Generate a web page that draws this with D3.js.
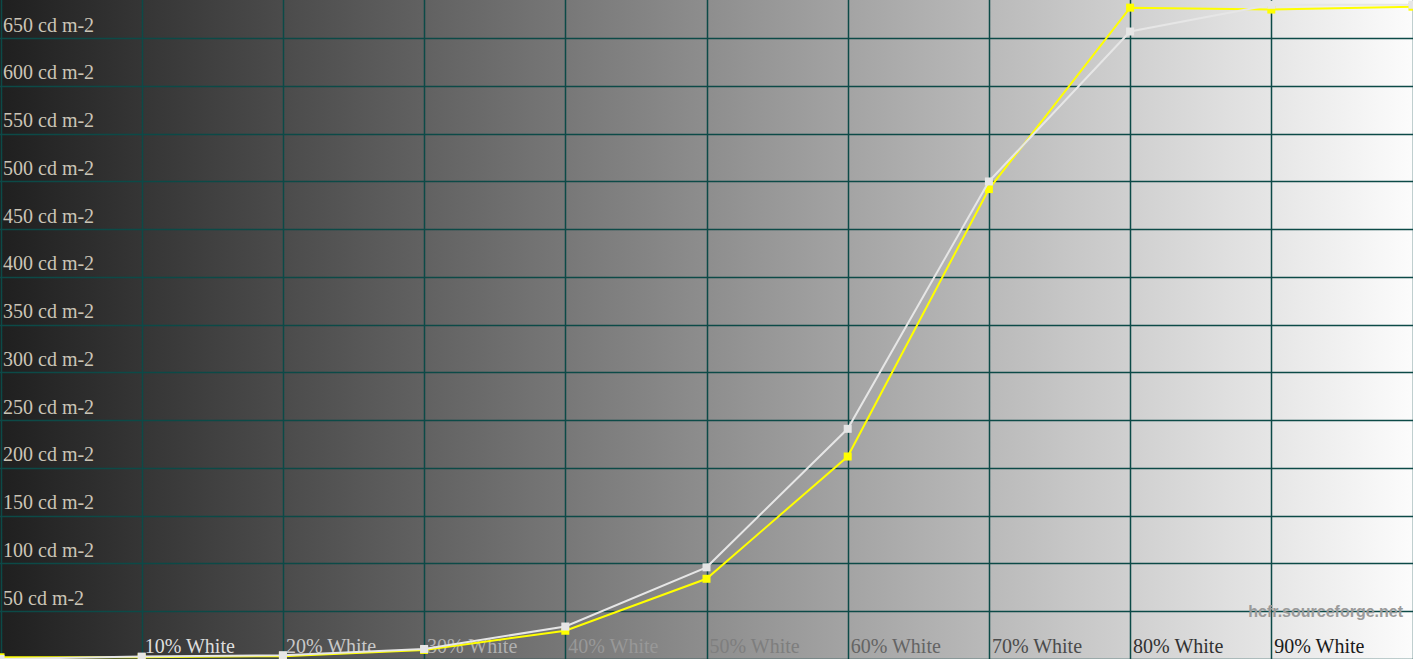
<!DOCTYPE html>
<html><head><meta charset="utf-8">
<script src="https://cdn.jsdelivr.net/npm/d3@7/dist/d3.min.js"></script>
<style>html,body{margin:0;padding:0;background:#1f1f1f;overflow:hidden}svg{display:block}</style>
</head><body>
<script>
const categories = [0,10,20,30,40,50,60,70,80,90,100];
const xLabels = ["","10% White","20% White","30% White","40% White","50% White","60% White","70% White","80% White","90% White",""];
const labelGrays = [255,222,200,176,152,126,100,75,50,26,0];
const whiteValues  = [0, 2.5, 4, 10.5, 34, 96, 241, 500, 657, 685, 685];
const yellowValues = [1.8, 1.8, 3, 9.5, 29.6, 84, 212, 492, 682, 680, 683];
const yTicks = [50,100,150,200,250,300,350,400,450,500,550,600,650];
const yTickLabels = yTicks.map(v => v + " cd m-2");
const gridY = [0,50,100,150,200,250,300,350,400,450,500,550,600,650,700];

const W = 1413, H = 659;
const x = d3.scaleLinear().domain([0,100]).range([0.5, W-0.5]);
const y = d3.scaleLinear().domain([0,690]).range([659, 0]);

const svg = d3.select("body").append("svg").attr("width", W).attr("height", H);
const defs = svg.append("defs");
const grad = defs.append("linearGradient").attr("id","bg").attr("x1","0").attr("x2","1").attr("y1","0").attr("y2","0");
grad.append("stop").attr("offset","0").attr("stop-color","#1f1f1f");
grad.append("stop").attr("offset","1").attr("stop-color","#fcfcfc");
svg.append("rect").attr("width",W).attr("height",H).attr("fill","url(#bg)");

const gridColor = "#0c4a47";
svg.append("g").selectAll("line").data(gridY).join("line")
  .attr("x1",0).attr("x2",W)
  .attr("y1",d=>Math.round(y(d))+0.5).attr("y2",d=>Math.round(y(d))+0.5)
  .attr("stroke",gridColor).attr("stroke-width",1.5);
svg.append("g").selectAll("line").data(categories).join("line")
  .attr("y1",0).attr("y2",H)
  .attr("x1",d=>Math.round(x(d))+0.5).attr("x2",d=>Math.round(x(d))+0.5)
  .attr("stroke",gridColor).attr("stroke-width",1.5);

// y labels
svg.append("g").selectAll("text").data(yTicks).join("text")
  .attr("x",3).attr("y",d=>y(d)-6.5)
  .attr("font-family","'Liberation Serif', serif").attr("font-size",20)
  .attr("fill","#cbc5b7").text((d,i)=>yTickLabels[i]);

// x labels
svg.append("g").selectAll("text").data(categories).join("text")
  .attr("x",d=>x(d)+3).attr("y",652.5)
  .attr("font-family","'Liberation Serif', serif").attr("font-size",20)
  .attr("fill",(d,i)=>{const g=labelGrays[i];return `rgb(${g},${g},${g})`;})
  .text((d,i)=>xLabels[i]);

// watermark
svg.append("text").attr("x",1403).attr("y",616.5).attr("text-anchor","end")
  .attr("font-family","'Liberation Sans', Arial, sans-serif").attr("font-weight","bold")
  .attr("font-size",16).attr("fill","#9a9a9a").text("hcfr.sourceforge.net");

function drawSeries(vals, color){
  const data = categories.map((c,i)=>({c, v: vals[i]}));
  const line = d3.line().x(d=>x(d.c)).y(d=>y(d.v));
  svg.append("path").datum(data).attr("d",line).attr("fill","none")
    .attr("stroke",color).attr("stroke-width",2);
  svg.append("g").selectAll("rect").data(data).join("rect")
    .attr("x",d=>x(d.c)-4).attr("y",d=>y(d.v)-4)
    .attr("width",8).attr("height",8).attr("fill",color);
}
drawSeries(yellowValues, "#ffff00");
drawSeries(whiteValues, "#e6e6e6");
</script>
</body></html>
